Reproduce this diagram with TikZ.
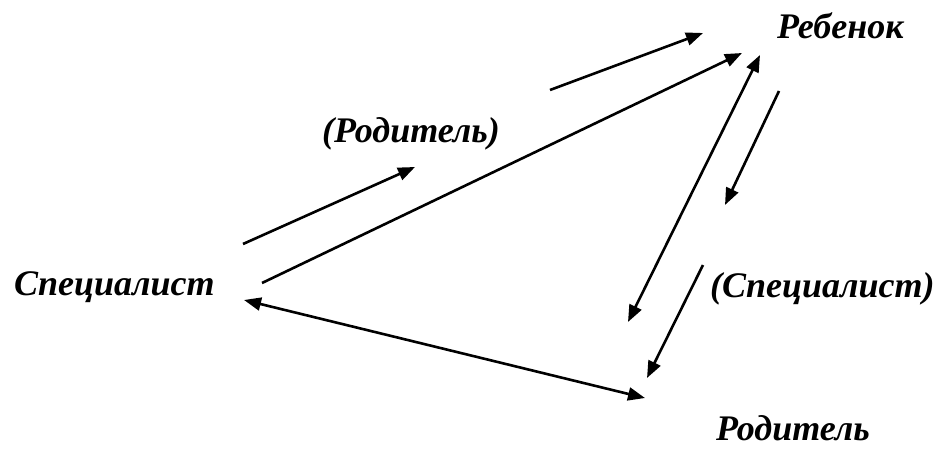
\documentclass[tikz,border=0pt]{standalone}
\usepackage{fontspec}
\setmainfont{Liberation Serif}
\usetikzlibrary{arrows.meta}
\begin{document}
\begin{tikzpicture}[x=1pt,y=-1pt,
  lbl/.style={font=\fontsize{36}{40}\selectfont\bfseries\itshape, inner sep=0pt, anchor=base west},
  arr/.style={line width=2.6pt, -{Triangle[length=17pt,width=13pt]}},
  darr/.style={line width=2.6pt, {Triangle[length=17pt,width=13pt]}-{Triangle[length=17pt,width=13pt]}}]
\useasboundingbox (0,0) rectangle (944,448);
\node[lbl] (reb) at (777,38) {Ребенок};
\node[lbl] (spec) at (14,295) {Специалист};
\node[lbl] (rodp) at (322,142) {(Родитель)};
\node[lbl] (specp) at (710,297) {(Специалист)};
\node[lbl] (rod) at (716,440) {Родитель};
% arrow endpoints
\coordinate (a1s) at (550,90);  \coordinate (a1e) at (703,33);
\coordinate (a2s) at (262,283); \coordinate (a2e) at (742,53);
\coordinate (a3s) at (243,244); \coordinate (a3e) at (415,167);
\coordinate (a4s) at (760,55);  \coordinate (a4e) at (628,322);
\coordinate (a5s) at (779,91);  \coordinate (a5e) at (725,205);
\coordinate (a6s) at (703,265); \coordinate (a6e) at (647,378);
\coordinate (a7s) at (244,300); \coordinate (a7e) at (645,398);
\draw[arr] (a1s) -- (a1e);
\draw[arr] (a2s) -- (a2e);
\draw[arr] (a3s) -- (a3e);
\draw[darr] (a4s) -- (a4e);
\draw[arr] (a5s) -- (a5e);
\draw[arr] (a6s) -- (a6e);
\draw[darr] (a7s) -- (a7e);
\end{tikzpicture}
\end{document}
